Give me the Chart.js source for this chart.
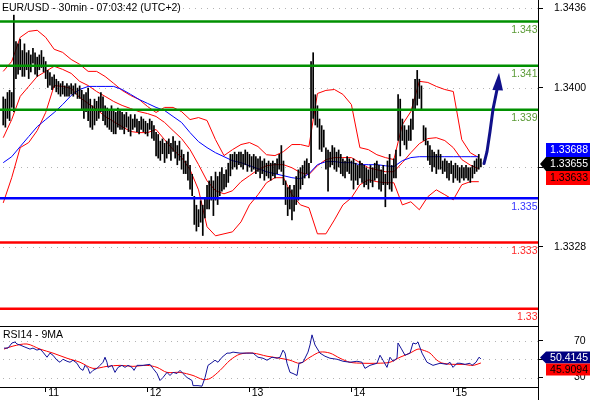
<!DOCTYPE html>
<html><head><meta charset="utf-8">
<script src="https://cdn.jsdelivr.net/npm/chart.js@4/dist/chart.umd.min.js"></script>
<style>
html,body{margin:0;padding:0;background:#fff;}
#wrap{position:relative;width:590px;height:400px;overflow:hidden;background:#fff;}
#main{position:absolute;left:0;top:0;}
#rsi{position:absolute;left:0;top:326px;}
</style></head><body>
<div id="wrap"><canvas id="main" width="590" height="326"></canvas><canvas id="rsi" width="590" height="74"></canvas></div>
<script>
const FONT = '"Liberation Sans", Arial, sans-serif';
const FSIZE = 10.5;
const titleText = 'EUR/USD - 30min - 07:03:42 (UTC+2)';
const rsiTitle = 'RSI14 - 9MA';

// time axis: hours from the 11th, 00:00
const dayTicks = [0, 24, 48, 72, 96];
const dayLabels = ['11', '12', '13', '14', '15'];
const xMin = -10.76, xMax = 115.95;
const firstBarHour = -10, barStepHours = 0.5;

// 30-min bars (high / low)
const barHigh = [
1.3396,1.3395,1.3398,1.3399,1.3398,1.3433,1.3421,1.3420,1.3422,1.3417,
1.3420,1.3416,1.3417,1.3415,1.3418,1.3416,1.3414,1.3415,1.3417,1.3414,
1.3412,1.3408,1.3407,1.3405,1.3406,1.3404,1.3403,1.3402,1.3403,1.3401,
1.3402,1.3401,1.3402,1.3401,1.3402,1.3400,1.3401,1.3399,1.3397,1.3398,
1.3400,1.3395,1.3392,1.3395,1.3394,1.3396,1.3398,1.3396,1.3392,1.3391,
1.3390,1.3392,1.3390,1.3389,1.3391,1.3390,1.3389,1.3388,1.3389,1.3387,
1.3388,1.3386,1.3388,1.3386,1.3385,1.3387,1.3386,1.3385,1.3384,1.3386,
1.3385,1.3383,1.3380,1.3379,1.3376,1.3377,1.3375,1.3376,1.3377,1.3375,
1.3378,1.3376,1.3374,1.3376,1.3372,1.3370,1.3367,1.3371,1.3365,1.3361,
1.3351,1.3347,1.3345,1.3349,1.3347,1.3350,1.3356,1.3358,1.3360,1.3358,
1.3362,1.3360,1.3362,1.3364,1.3361,1.3363,1.3366,1.3370,1.3370,1.3371,
1.3370,1.3371,1.3371,1.3370,1.3372,1.3371,1.3370,1.3369,1.3370,1.3369,
1.3368,1.3369,1.3367,1.3368,1.3366,1.3367,1.3366,1.3367,1.3366,1.3368,
1.3370,1.3374,1.3367,1.3358,1.3355,1.3356,1.3354,1.3356,1.3360,1.3363,
1.3364,1.3365,1.3367,1.3368,1.3366,1.3412,1.3416,1.3397,1.3392,1.3386,
1.3383,1.3381,1.3373,1.3372,1.3371,1.3374,1.3373,1.3371,1.3372,1.3370,
1.3368,1.3367,1.3369,1.3368,1.3367,1.3368,1.3366,1.3365,1.3367,1.3366,
1.3365,1.3364,1.3363,1.3365,1.3364,1.3366,1.3367,1.3365,1.3363,1.3365,
1.3361,1.3367,1.3370,1.3365,1.3368,1.3372,1.3397,1.3395,1.3386,1.3383,
1.3381,1.3383,1.3386,1.3395,1.3404,1.3408,1.3404,1.3401,1.3383,1.3382,
1.3376,1.3374,1.3372,1.3371,1.3370,1.3372,1.3370,1.3367,1.3368,1.3367,
1.3366,1.3367,1.3365,1.3366,1.3365,1.3364,1.3365,1.3364,1.3365,1.3364,
1.3364,1.3365,1.3367,1.3368,1.3370,1.3368];
const barLow = [
1.3383,1.3382,1.3386,1.3385,1.3391,1.3389,1.3404,1.3406,1.3408,1.3405,
1.3405,1.3408,1.3404,1.3407,1.3411,1.3406,1.3405,1.3408,1.3409,1.3407,
1.3404,1.3400,1.3401,1.3399,1.3400,1.3398,1.3397,1.3396,1.3397,1.3396,
1.3396,1.3396,1.3397,1.3396,1.3397,1.3395,1.3395,1.3390,1.3386,1.3389,
1.3385,1.3382,1.3381,1.3383,1.3385,1.3386,1.3389,1.3385,1.3383,1.3382,
1.3381,1.3380,1.3379,1.3379,1.3382,1.3381,1.3381,1.3379,1.3382,1.3380,
1.3378,1.3381,1.3382,1.3380,1.3379,1.3381,1.3380,1.3379,1.3378,1.3381,
1.3377,1.3376,1.3369,1.3368,1.3367,1.3370,1.3366,1.3368,1.3370,1.3367,
1.3371,1.3368,1.3365,1.3367,1.3363,1.3361,1.3361,1.3358,1.3354,1.3351,
1.3338,1.3335,1.3337,1.3339,1.3333,1.3341,1.3345,1.3345,1.3349,1.3342,
1.3349,1.3347,1.3351,1.3353,1.3354,1.3355,1.3357,1.3360,1.3363,1.3364,
1.3363,1.3365,1.3364,1.3363,1.3365,1.3362,1.3364,1.3362,1.3363,1.3361,
1.3362,1.3359,1.3361,1.3358,1.3360,1.3359,1.3358,1.3360,1.3359,1.3361,
1.3363,1.3362,1.3356,1.3347,1.3342,1.3345,1.3340,1.3344,1.3347,1.3349,
1.3354,1.3356,1.3359,1.3361,1.3359,1.3366,1.3386,1.3383,1.3382,1.3372,
1.3371,1.3373,1.3363,1.3353,1.3364,1.3365,1.3363,1.3362,1.3364,1.3361,
1.3360,1.3359,1.3362,1.3361,1.3358,1.3354,1.3358,1.3356,1.3359,1.3357,
1.3355,1.3356,1.3354,1.3357,1.3355,1.3358,1.3359,1.3354,1.3353,1.3356,
1.3346,1.3356,1.3354,1.3353,1.3359,1.3359,1.3376,1.3369,1.3376,1.3374,
1.3372,1.3376,1.3376,1.3381,1.3390,1.3392,1.3395,1.3390,1.3376,1.3374,
1.3367,1.3365,1.3362,1.3364,1.3361,1.3363,1.3363,1.3361,1.3362,1.3359,
1.3358,1.3361,1.3357,1.3359,1.3358,1.3357,1.3359,1.3358,1.3359,1.3358,
1.3357,1.3359,1.3361,1.3362,1.3363,1.3364];
const lastClose = 1.33655;

// Bollinger bands and moving average, read every 4 bars
const bandStepBars = 4;
const bbUpper = [1.34074,1.34119,1.34228,1.34255,1.34260,1.34228,1.34174,1.34160,1.34128,1.34106,
1.34074,1.34074,1.34051,1.34020,1.33988,1.33965,1.33947,1.33915,1.33888,1.33911,
1.33911,1.33892,1.33856,1.33865,1.33852,1.33765,1.33693,1.33720,1.33743,1.33752,
1.33734,1.33697,1.33693,1.33711,1.33743,1.33743,1.33734,1.33974,1.33988,1.33992,
1.33970,1.33924,1.33729,1.33720,1.33697,1.33684,1.33675,1.33833,1.33892,1.34029,
1.34024,1.34006,1.33992,1.33983,1.33765,1.33706,1.33684];
const bbMiddle = [1.33774,1.33856,1.33961,1.34006,1.34051,1.34074,1.34097,1.34083,1.34065,1.34029,
1.34010,1.33983,1.33961,1.33938,1.33920,1.33906,1.33892,1.33883,1.33870,1.33843,
1.33806,1.33770,1.33720,1.33652,1.33579,1.33534,1.33520,1.33534,1.33575,1.33602,
1.33629,1.33647,1.33652,1.33652,1.33638,1.33616,1.33607,1.33647,1.33675,1.33684,
1.33684,1.33684,1.33661,1.33638,1.33629,1.33620,1.33620,1.33661,1.33706,1.33747,
1.33770,1.33774,1.33761,1.33729,1.33675,1.33650,1.33633];
const bbLower = [1.33479,1.33593,1.33729,1.33752,1.33806,1.33888,1.34010,1.34006,1.33997,1.33956,
1.33929,1.33902,1.33870,1.33847,1.33824,1.33802,1.33797,1.33797,1.33811,1.33765,
1.33720,1.33684,1.33629,1.33538,1.33371,1.33330,1.33339,1.33348,1.33393,1.33470,
1.33516,1.33570,1.33593,1.33593,1.33516,1.33470,1.33457,1.33339,1.33339,1.33402,
1.33470,1.33502,1.33561,1.33584,1.33575,1.33570,1.33570,1.33470,1.33484,1.33448,
1.33507,1.33538,1.33516,1.33493,1.33561,1.33575,1.33575];
const maLine = [1.33661,1.33688,1.33734,1.33779,1.33824,1.33856,1.33888,1.33924,1.33965,1.33992,
1.34006,1.34006,1.34006,1.34006,1.33992,1.33970,1.33947,1.33929,1.33911,1.33897,
1.33870,1.33843,1.33797,1.33756,1.33729,1.33706,1.33688,1.33670,1.33661,1.33647,
1.33634,1.33620,1.33611,1.33602,1.33593,1.33588,1.33611,1.33652,1.33666,1.33666,
1.33661,1.33661,1.33652,1.33652,1.33652,1.33647,1.33643,1.33670,1.33684,1.33688,
1.33688,1.33688,1.33688,1.33688,1.33688,1.33688,1.33688];
const maLast = 1.33688, midLast = 1.33633;

// price axis
const priceMin = 1.32922, priceMax = 1.34397;
const priceTicks = [1.3328, 1.3364, 1.3400, 1.3436];

// support / resistance levels
const levelValues = [1.343, 1.341, 1.339, 1.335, 1.333, 1.33];
const levelLabels = ['1.343', '1.341', '1.339', '1.335', '1.333', '1.33'];
const levelColors = ['#009000', '#009000', '#009000', '#0000ff', '#ff0000', '#ff0000'];
const levelTextColors = ['#5a9a35', '#5a9a35', '#5a9a35', '#3535ff', '#ff2a2a', '#ff2a2a'];

// projected arrow (hours, price)
const arrowHours = [103.23, 103.94, 104.65, 105.35, 106.30];
const arrowPrices = [1.33657, 1.33711, 1.33802, 1.33902, 1.33992];
const arrowHeadHours = [105.20, 107.70, 106.77];
const arrowHeadPrices = [1.33990, 1.33988, 1.34068];

// RSI 14 and its 9 MA
const rsiMin = 19.6, rsiMax = 86.4;
const rsiTicks = [30, 50, 70];
const rsiHours = [-9.82,-8.88,-7.94,-7.23,-6.76,-6.05,-4.88,-3.70,-2.99,-2.05,
-1.34,-0.64,0.31,1.01,1.72,2.66,3.37,4.07,5.02,5.72,
6.43,7.37,8.08,8.79,9.26,9.96,10.43,11.14,12.08,12.79,
13.50,13.97,14.44,14.67,15.61,16.32,17.03,17.97,18.68,19.38,
20.33,20.80,21.50,22.92,24.57,25.27,26.22,26.92,27.63,28.57,
29.28,29.99,30.93,31.64,32.34,33.29,34.46,34.70,35.88,36.82,
37.53,38.23,38.94,39.88,40.59,41.53,42.71,43.41,44.12,45.76,
47.41,48.83,50.00,51.19,52.13,53.31,54.48,55.19,55.90,56.37,
56.84,57.54,58.25,59.19,59.66,60.60,61.78,62.25,62.72,63.43,
64.61,65.78,66.96,68.61,70.02,71.67,73.32,74.50,75.20,76.38,
78.03,78.74,79.44,80.38,81.09,81.80,82.74,82.98,83.68,84.62,
85.80,86.51,87.21,87.68,88.63,89.80,91.22,92.87,94.52,95.22,
95.93,96.87,97.58,98.76,99.93,100.41,101.35,102.06,102.5];
const rsiValues = [62.2,62.2,67.8,68.9,66.7,65.6,63.3,61.1,62.2,60,
61.1,57.8,52.2,56.7,54.4,48.9,46.7,50,47.8,46.7,
48.9,45.6,40,37.8,43.3,40,34.4,37.8,40,43.3,
46.7,52.2,46.7,41.1,43.3,35.6,41.1,43.3,41.1,43.3,
41.1,37.8,43.3,43.3,44.4,40,34.4,26.7,30,35.6,
32.2,35.6,34.4,37.8,34.4,30,26.7,21.1,21.1,20.5,
30,43.3,45.6,48.9,46.7,52.2,56.7,56.7,57.8,56.7,
56.7,56.7,52.2,51.1,48.9,52.2,51.1,52.2,60,56.7,
45.6,35.6,34.4,32.2,45.6,46.7,57.8,65.6,76.7,65.6,
56.7,53.3,51.1,50,47.8,46.7,47.8,46.7,40,43.3,
45.6,54.4,48.9,41.1,52.2,47.8,51.1,67.8,62.2,54.4,
56.7,67.8,66.7,68.9,56.7,46.7,43.3,45.6,44.4,46.7,
41.1,45.6,45.6,44.4,45.6,43.3,46.7,52.2,50.4145];
const rsiMaHours = [-9.82,-7.70,-4.40,-1.34,1.72,5.02,8.08,11.14,14.44,17.50,
20.56,23.86,26.22,28.57,31.64,34.70,37.06,38.71,41.06,43.41,
45.76,48.83,52.13,55.19,57.54,59.90,62.25,64.61,66.96,69.32,
71.67,74.73,78.03,81.09,83.45,85.80,87.68,88.86,90.51,92.16,
93.57,95.93,98.29,100.64,102.5];
const rsiMaValues = [61.1,64.4,66.7,61.1,56.7,51.1,46.7,40,42.2,43.3,
42.2,43.3,41.1,35.6,35.6,32.2,27.8,28.9,37.8,48.9,
55.6,56.7,53.3,51.1,48.9,45.6,52.2,57.8,56.7,51.1,
46.7,45.6,45.6,46.7,52.2,56.7,61.1,60,56.7,48.9,
45.6,44.4,44.4,43.3,45.9094];

// ---------- build datasets ----------
const barData = barHigh.map((h, i) => ({ x: firstBarHour + i * barStepHours, y: [barLow[i], h] }));
const bandPts = arr => arr.map((v, k) => ({ x: firstBarHour + k * bandStepBars * barStepHours, y: v }));
const xyPts = (xs, ys) => xs.map((h, i) => ({ x: h, y: ys[i] }));

Chart.defaults.font.family = FONT;
Chart.defaults.font.size = FSIZE;
Chart.defaults.color = '#000';

function dottedGrid(chart, scale, values) {
  const { ctx, chartArea: a } = chart;
  ctx.save();
  ctx.strokeStyle = '#b4b4b4'; ctx.lineWidth = 1; ctx.setLineDash([1, 5]);
  values.forEach(v => {
    const py = Math.round(scale.getPixelForValue(v)) + 0.5;
    ctx.beginPath(); ctx.moveTo(a.left + 3, py); ctx.lineTo(a.right, py); ctx.stroke();
  });
  ctx.restore();
}
function drawBox(ctx, xL, xR, yc, h, bg, fg, text, tipX) {
  ctx.fillStyle = bg;
  ctx.beginPath();
  if (tipX !== undefined) { ctx.moveTo(tipX, yc); ctx.lineTo(xL, yc - h / 2); }
  else ctx.moveTo(xL, yc - h / 2);
  ctx.lineTo(xR, yc - h / 2); ctx.lineTo(xR, yc + h / 2); ctx.lineTo(xL, yc + h / 2);
  ctx.closePath(); ctx.fill();
  ctx.fillStyle = fg; ctx.font = FSIZE + 'px ' + FONT;
  ctx.textAlign = 'right'; ctx.textBaseline = 'middle';
  ctx.fillText(text, xR - 2, yc + 0.5);
}

const mainDecor = {
  id: 'mainDecor',
  beforeDatasetsDraw(chart) { dottedGrid(chart, chart.scales.y, priceTicks); },
  afterDatasetsDraw(chart) {
    const { ctx, chartArea: a, scales: { x, y } } = chart;
    ctx.save();
    levelValues.forEach((v, i) => {
      const py = y.getPixelForValue(v);
      ctx.strokeStyle = levelColors[i]; ctx.lineWidth = 2.5;
      ctx.beginPath(); ctx.moveTo(a.left, py); ctx.lineTo(a.right, py); ctx.stroke();
      ctx.fillStyle = levelTextColors[i]; ctx.font = FSIZE + 'px ' + FONT;
      ctx.textAlign = 'right'; ctx.textBaseline = 'alphabetic';
      ctx.fillText(levelLabels[i], a.right - 0.5, py + 11.5);
    });
    const col = '#10108a';
    ctx.strokeStyle = col; ctx.lineWidth = 3; ctx.lineJoin = 'round'; ctx.lineCap = 'round';
    ctx.beginPath();
    arrowHours.forEach((h, i) => {
      const px = x.getPixelForValue(h), py = y.getPixelForValue(arrowPrices[i]);
      if (i === 0) ctx.moveTo(px, py); else ctx.lineTo(px, py);
    });
    ctx.stroke();
    ctx.fillStyle = col; ctx.beginPath();
    arrowHeadHours.forEach((h, i) => {
      const px = x.getPixelForValue(h), py = y.getPixelForValue(arrowHeadPrices[i]);
      if (i === 0) ctx.moveTo(px, py); else ctx.lineTo(px, py);
    });
    ctx.closePath(); ctx.fill();
    ctx.restore();
  },
  afterDraw(chart) {
    const { ctx, chartArea: a, scales: { y } } = chart;
    ctx.save();
    ctx.fillStyle = '#000'; ctx.font = FSIZE + 'px ' + FONT;
    ctx.textAlign = 'left'; ctx.textBaseline = 'alphabetic';
    ctx.fillText(titleText, 2, 10.5);
    const yc = Math.round(y.getPixelForValue(lastClose));
    const xL = a.right + 8, xR = chart.width, h = 14;
    drawBox(ctx, xL, xR, yc - h, h, '#0000ff', '#fff', maLast.toFixed(5));
    drawBox(ctx, xL, xR, yc, h, '#000', '#fff', lastClose.toFixed(5), a.right + 2);
    drawBox(ctx, xL, xR, yc + h, h, '#ff0000', '#000', midLast.toFixed(5));
    ctx.restore();
  }
};

new Chart(document.getElementById('main'), {
  type: 'bar',
  data: {
    datasets: [
      { type: 'bar', data: barData, backgroundColor: '#000', borderWidth: 0, barThickness: 1.7, inflateAmount: 0, order: 0 },
      { type: 'line', data: bandPts(bbUpper), borderColor: '#ff0000', borderWidth: 1, pointRadius: 0, tension: 0, order: 2 },
      { type: 'line', data: bandPts(bbMiddle), borderColor: '#ff0000', borderWidth: 1, pointRadius: 0, tension: 0, order: 2 },
      { type: 'line', data: bandPts(bbLower), borderColor: '#ff0000', borderWidth: 1, pointRadius: 0, tension: 0, order: 2 },
      { type: 'line', data: bandPts(maLine), borderColor: '#0000ff', borderWidth: 1, pointRadius: 0, tension: 0, order: 1 }
    ]
  },
  options: {
    responsive: false, animation: false, devicePixelRatio: 1, events: [],
    layout: { padding: { left: 0, right: 2, top: 0, bottom: 0 }, autoPadding: false },
    plugins: { legend: { display: false }, tooltip: { enabled: false } },
    scales: {
      x: { type: 'linear', min: xMin, max: xMax, offset: false, display: false },
      y: {
        type: 'linear', position: 'right', min: priceMin, max: priceMax, beginAtZero: false,
        afterBuildTicks: s => { s.ticks = priceTicks.map(v => ({ value: v })); },
        afterFit: s => { s.width = 50; s.paddingTop = 0; s.paddingBottom = 0; },
        ticks: { crossAlign: 'near', padding: 11, color: '#000', callback: v => v.toFixed(4) },
        grid: { drawOnChartArea: false, drawTicks: true, tickLength: 5, tickColor: '#000', tickWidth: 1 },
        border: { display: true, color: '#000', width: 1 }
      }
    }
  },
  plugins: [mainDecor]
});

const rsiDecor = {
  id: 'rsiDecor',
  beforeDatasetsDraw(chart) { dottedGrid(chart, chart.scales.y, rsiTicks); },
  afterDraw(chart) {
    const { ctx, chartArea: a, scales: { y } } = chart;
    ctx.save();
    ctx.strokeStyle = '#000'; ctx.lineWidth = 1;
    ctx.beginPath(); ctx.moveTo(0, a.top + 0.5); ctx.lineTo(a.right, a.top + 0.5); ctx.stroke();
    ctx.beginPath(); ctx.moveTo(a.right + 0.5, a.bottom); ctx.lineTo(a.right + 0.5, chart.height); ctx.stroke();
    ctx.fillStyle = '#000'; ctx.font = FSIZE + 'px ' + FONT;
    ctx.textAlign = 'left'; ctx.textBaseline = 'alphabetic';
    ctx.fillText(rsiTitle, 3, 11.5);
    const last = rsiValues[rsiValues.length - 1], lastMa = rsiMaValues[rsiMaValues.length - 1];
    const yc = Math.round(y.getPixelForValue(last)) - 1.5;
    const xL = a.right + 8, xR = chart.width, h = 12;
    drawBox(ctx, xL, xR, yc, h, '#000080', '#fff', last.toFixed(4), a.right + 2);
    drawBox(ctx, xL, xR, yc + h, h, '#ff0000', '#000', lastMa.toFixed(4));
    ctx.restore();
  }
};

new Chart(document.getElementById('rsi'), {
  type: 'line',
  data: {
    datasets: [
      { data: xyPts(rsiHours, rsiValues), borderColor: '#12129a', borderWidth: 1, pointRadius: 0, tension: 0 },
      { data: xyPts(rsiMaHours, rsiMaValues), borderColor: '#ff0000', borderWidth: 1, pointRadius: 0, tension: 0.3 }
    ]
  },
  options: {
    responsive: false, animation: false, devicePixelRatio: 1, events: [],
    layout: { padding: { left: 0, right: 2, top: 0, bottom: 0 }, autoPadding: false },
    plugins: { legend: { display: false }, tooltip: { enabled: false } },
    scales: {
      x: {
        type: 'linear', min: xMin, max: xMax, offset: false,
        afterBuildTicks: s => { s.ticks = dayTicks.map(v => ({ value: v })); },
        afterFit: s => { s.height = 13; s.paddingLeft = 0; s.paddingRight = 0; },
        ticks: { autoSkip: false, maxRotation: 0, labelOffset: 8, padding: -5, color: '#000',
                 callback: v => dayLabels[dayTicks.indexOf(v)] },
        grid: { drawOnChartArea: false, drawTicks: true, tickLength: 5, tickColor: '#000' },
        border: { display: true, color: '#000', width: 1 }
      },
      y: {
        type: 'linear', position: 'right', min: rsiMin, max: rsiMax,
        afterBuildTicks: s => { s.ticks = rsiTicks.map(v => ({ value: v })); },
        afterFit: s => { s.width = 50; s.paddingTop = 0; s.paddingBottom = 0; },
        ticks: { crossAlign: 'near', padding: 31, color: '#000', callback: v => String(v) },
        grid: { drawOnChartArea: false, drawTicks: true, tickLength: 5, tickColor: '#000' },
        border: { display: true, color: '#000', width: 1 }
      }
    }
  },
  plugins: [rsiDecor]
});
</script>
</body></html>
